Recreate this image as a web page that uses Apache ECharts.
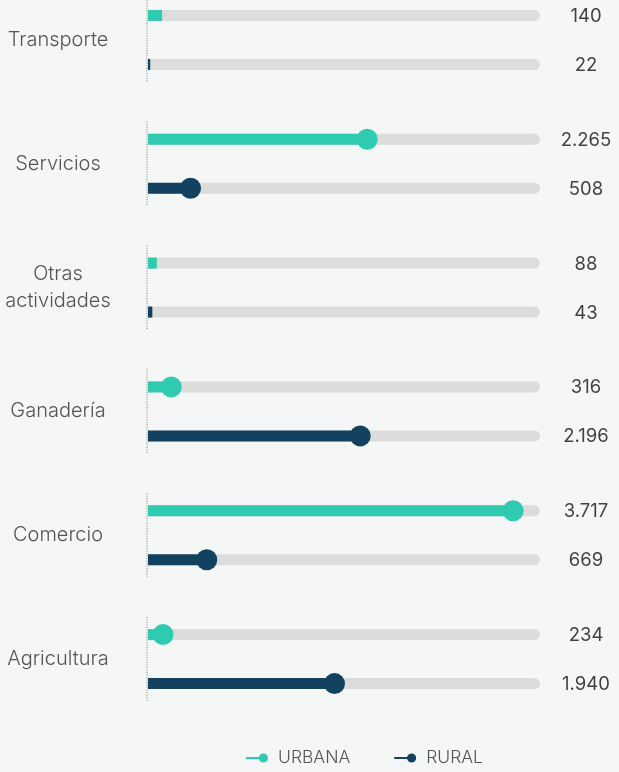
<!DOCTYPE html>
<html>
<head>
<meta charset="utf-8">
<script src="https://cdn.jsdelivr.net/npm/echarts@6/dist/echarts.min.js"></script>
<style>
  html, body { margin: 0; padding: 0; background: #f5f7f7; overflow: hidden; }
  /* el gráfico empieza recortado arriba, como en el original */
  #chart { width: 619px; height: 794px; margin-top: -22px; }
</style>
</head>
<body>
<div id="chart"></div>
<script>
"use strict";

var categories = ["Transporte", "Servicios", "Otras\nactividades", "Ganadería", "Comercio", "Agricultura"];
var urbana = [140, 2265, 88, 316, 3717, 234];
var rural = [22, 508, 43, 2196, 669, 1940];
var seriesNames = ["URBANA", "RURAL"];

var X_MAX = 3900;
var DOT_MIN = 200; // sin círculo para valores pequeños
var ROW_OFF = 24.5;
var C_URB = "#2ecbb1";
var C_RUR = "#12425f";
var ICON = "path://M0,4.1h14v1.8H0z M17,0.5a4.5,4.5 0 1 1 0,9a4.5,4.5 0 1 1 0,-9z";

var chart = echarts.init(document.getElementById("chart"));

function fmt(v) {
  return String(v).replace(/\B(?=(\d{3})+(?!\d))/g, ".");
}

function dots(values) {
  return values.map(function (v, i) {
    return { value: [v, i], symbolSize: v >= DOT_MIN ? 21 : 0 };
  });
}

function labels(values) {
  return values.map(function (v, i) {
    return { value: [X_MAX, i], raw: v };
  });
}

function labelSeries(name, values, dy) {
  return {
    name: name,
    type: "scatter",
    symbolSize: 0,
    silent: true,
    z: 5,
    data: labels(values),
    label: {
      show: true,
      position: "inside",
      offset: [46, dy + 1],
      align: "center",
      fontFamily: "Inter",
      fontSize: 18.5,
      color: "#111",
      formatter: function (p) { return fmt(p.data.raw); }
    }
  };
}

var option = {
  backgroundColor: "#f5f7f7",
  animation: false,
  grid: { left: 148, right: 79, top: 0, bottom: 51, containLabel: false },
  legend: {
    left: 246,
    top: 771,
    padding: 0,
    itemWidth: 22,
    itemHeight: 10,
    itemGap: 44,
    textStyle: { fontFamily: "Inter", fontWeight: 300, fontSize: 17.5, color: "#555", padding: [0, 0, 0, 5] },
    data: [
      { name: "URBANA", icon: ICON, itemStyle: { color: C_URB } },
      { name: "RURAL", icon: ICON, itemStyle: { color: C_RUR } }
    ]
  },
  xAxis: { type: "value", min: 0, max: X_MAX, show: false },
  yAxis: {
    type: "category",
    data: categories,
    inverse: true,
    axisLine: { show: false },
    axisTick: { show: false },
    splitLine: { show: false },
    axisLabel: {
      align: "center",
      margin: 90,
      fontFamily: "Inter",
      fontWeight: 300,
      fontSize: 20,
      lineHeight: 27,
      color: "#555"
    }
  },
  series: [
    {
      // línea punteada de cada grupo
      type: "custom",
      silent: true,
      z: 1,
      data: categories.map(function (c, i) { return [0, i]; }),
      encode: { x: 0, y: 1 },
      renderItem: function (params, api) {
        var p = api.coord([0, api.value(1)]);
        var h = api.size([0, 1])[1] * 0.34;
        return {
          type: "line",
          shape: { x1: p[0] - 1, y1: p[1] - h, x2: p[0] - 1, y2: p[1] + h },
          style: { stroke: "#777", lineWidth: 1, lineDash: [1, 1.5] }
        };
      }
    },
    {
      name: seriesNames[0],
      type: "bar",
      data: urbana,
      barWidth: 11,
      barGap: "345%",
      itemStyle: { color: C_URB },
      showBackground: true,
      backgroundStyle: { color: "#dcdcdc", borderRadius: [0, 6, 6, 0] },
      z: 2
    },
    {
      name: seriesNames[1],
      type: "bar",
      data: rural,
      barWidth: 11,
      barGap: "345%",
      itemStyle: { color: C_RUR },
      showBackground: true,
      backgroundStyle: { color: "#dcdcdc", borderRadius: [0, 6, 6, 0] },
      z: 2
    },
    {
      name: seriesNames[0],
      type: "scatter",
      data: dots(urbana),
      symbolOffset: [-8.5, -ROW_OFF],
      itemStyle: { color: C_URB, opacity: 1 },
      z: 3
    },
    {
      name: seriesNames[1],
      type: "scatter",
      data: dots(rural),
      symbolOffset: [-8.5, ROW_OFF],
      itemStyle: { color: C_RUR, opacity: 1 },
      z: 3
    },
    labelSeries("lab_urb", urbana, -ROW_OFF),
    labelSeries("lab_rur", rural, ROW_OFF)
  ]
};

chart.setOption(option);
</script>
</body>
</html>
